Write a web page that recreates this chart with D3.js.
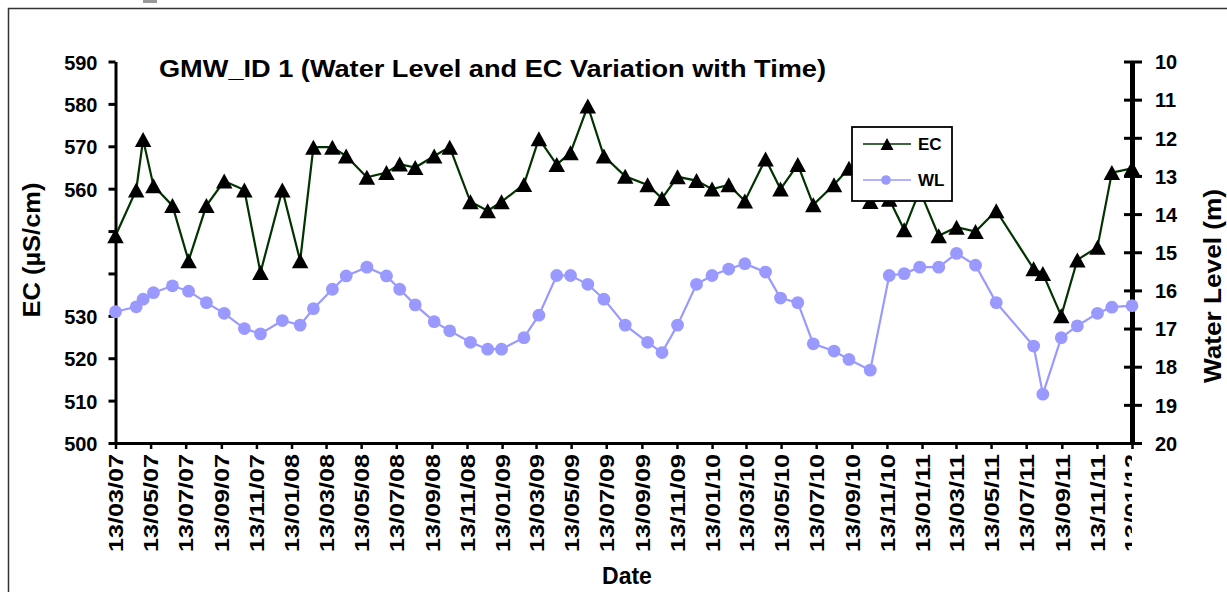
<!DOCTYPE html>
<html>
<head>
<meta charset="utf-8">
<script src="https://cdn.jsdelivr.net/npm/d3@7"></script>
<style>
  html, body { margin: 0; padding: 0; background: #fff; }
  svg { display: block; font-family: "Liberation Sans", Arial, sans-serif; font-weight: bold; }
</style>
</head>
<body>
<svg id="chart" width="1227" height="592"></svg>
<script>
// ---------------- data ----------------
const sampleDates = [
  "2007-03-13","2007-04-18","2007-04-30","2007-05-18","2007-06-20","2007-07-18","2007-08-18","2007-09-18",
  "2007-10-23","2007-11-20","2007-12-28","2008-01-28","2008-02-20","2008-03-24","2008-04-17","2008-05-23",
  "2008-06-26","2008-07-19","2008-08-15","2008-09-17","2008-10-14","2008-11-19","2008-12-19","2009-01-12",
  "2009-02-20","2009-03-18","2009-04-18","2009-05-12","2009-06-11","2009-07-09","2009-08-15","2009-09-23",
  "2009-10-18","2009-11-14","2009-12-17","2010-01-13","2010-02-11","2010-03-11","2010-04-16","2010-05-12",
  "2010-06-11","2010-07-08","2010-08-13","2010-09-08","2010-10-15","2010-11-17","2010-12-13","2011-01-09",
  "2011-02-11","2011-03-14","2011-04-16","2011-05-22","2011-07-26","2011-08-11","2011-09-12","2011-10-10",
  "2011-11-14","2011-12-09","2012-01-13"
];
const ecValues = [
  548.9, 559.7, 571.6, 560.7, 556.0, 543.0, 556.0, 561.8,
  559.7, 540.2, 559.7, 543.0, 569.8, 569.8, 567.7, 562.7,
  563.8, 565.8, 565.0, 567.7, 569.8, 556.9, 554.8, 556.9,
  561.0, 571.8, 565.7, 568.5, 579.5, 567.7, 562.9, 560.9,
  557.7, 562.8, 561.9, 559.9, 560.9, 557.1, 567.0, 559.9,
  565.7, 556.2, 560.9, 564.8, 557.0, 557.5, 550.3, 559.6,
  548.9, 550.9, 549.9, 554.8, 541.1, 540.0, 530.0, 543.2,
  546.2, 563.8, 564.8
];
const wlValues = [
  16.56, 16.43, 16.23, 16.06, 15.88, 16.02, 16.32, 16.60,
  17.00, 17.14, 16.79, 16.91, 16.48, 15.97, 15.62, 15.39,
  15.62, 15.97, 16.38, 16.82, 17.06, 17.36, 17.54, 17.54,
  17.24, 16.65, 15.61, 15.61, 15.84, 16.23, 16.91, 17.36,
  17.63, 16.91, 15.84, 15.61, 15.44, 15.30, 15.52, 16.20,
  16.32, 17.40, 17.59, 17.81, 18.09, 15.61, 15.56, 15.39,
  15.39, 15.03, 15.34, 16.32, 17.46, 18.72, 17.24, 16.93,
  16.60, 16.44, 16.40
];
const xTickLabels = [
  "13/03/07","13/05/07","13/07/07","13/09/07","13/11/07","13/01/08","13/03/08","13/05/08",
  "13/07/08","13/09/08","13/11/08","13/01/09","13/03/09","13/05/09","13/07/09","13/09/09",
  "13/11/09","13/01/10","13/03/10","13/05/10","13/07/10","13/09/10","13/11/10","13/01/11",
  "13/03/11","13/05/11","13/07/11","13/09/11","13/11/11","13/01/12"
];
const ecTickValues = [500, 510, 520, 530, 540, 550, 560, 570, 580, 590];
const ecTickLabels = ["500", "510", "520", "530", "", "", "560", "570", "580", "590"];
const wlTickValues = [10, 11, 12, 13, 14, 15, 16, 17, 18, 19, 20];
const seriesNames = ["EC", "WL"];

// ---------------- layout ----------------
const svg = d3.select("#chart");
const plot = { left: 115.5, right: 1132, top: 61.5, bottom: 443 };
const ecColor = "#003300", wlColor = "#9999ff";

const parseISO = d3.timeParse("%Y-%m-%d");
const parseTick = d3.timeParse("%d/%m/%y");
const dates = sampleDates.map(parseISO);
const tickDates = xTickLabels.map(parseTick);

const x = d3.scaleTime()
  .domain([tickDates[0], tickDates[tickDates.length - 1]])
  .range([plot.left, plot.right]);
const yEC = d3.scaleLinear().domain([500, 590]).range([plot.bottom, plot.top]);
const yWL = d3.scaleLinear().domain([10, 20]).range([plot.top, plot.bottom]);

// chart-area border and clipped fragment at the very top
svg.append("rect").attr("x", 8.5).attr("y", 8.5).attr("width", 1400).attr("height", 800)
  .attr("fill", "#fff").attr("stroke", "#333").attr("stroke-width", 1.5);
svg.append("rect").attr("x", 143).attr("y", 0).attr("width", 14).attr("height", 3).attr("fill", "#999");

// title
svg.append("text").attr("x", 159).attr("y", 77)
  .attr("font-size", 24).attr("textLength", 667).attr("lengthAdjust", "spacingAndGlyphs")
  .text("GMW_ID 1 (Water Level and EC Variation with Time)");

// ---------------- axes ----------------
const fmtMap = new Map(tickDates.map((d, i) => [+d, xTickLabels[i]]));
const clip = svg.append("clipPath").attr("id", "xclip");
clip.append("rect").attr("x", 0).attr("y", 0).attr("width", 1132).attr("height", 592);

const xAxisG = svg.append("g").attr("transform", `translate(0,${plot.bottom})`)
  .call(d3.axisBottom(x).tickValues(tickDates).tickFormat(d => fmtMap.get(+d)).tickSize(6).tickSizeOuter(0));
xAxisG.select(".domain").attr("stroke", "#000").attr("stroke-width", 3);
xAxisG.selectAll(".tick line").attr("stroke", "#000").attr("stroke-width", 2.5);
xAxisG.selectAll(".tick text")
  .attr("fill", "#000").attr("font-size", 20).attr("font-weight", "bold")
  .attr("text-anchor", "end")
  .attr("transform", "rotate(-90)")
  .attr("x", -11).attr("y", 0).attr("dy", "0.36em")
  .attr("textLength", 98).attr("lengthAdjust", "spacingAndGlyphs")
  .attr("clip-path", (d, i) => i === tickDates.length - 1 ? null : null);
// last label is cut at the plot's right edge
xAxisG.selectAll(".tick").filter((d, i) => i === tickDates.length - 1)
  .select("text").remove();
const lastTick = tickDates[tickDates.length - 1];
svg.append("g").attr("clip-path", "url(#xclip)")
  .append("text")
  .attr("transform", `translate(${x(lastTick)},${plot.bottom}) rotate(-90)`)
  .attr("x", -11).attr("dy", "0.36em").attr("text-anchor", "end")
  .attr("font-size", 20).attr("textLength", 98).attr("lengthAdjust", "spacingAndGlyphs")
  .text(fmtMap.get(+lastTick));

const ecLabelMap = new Map(ecTickValues.map((v, i) => [v, ecTickLabels[i]]));
const yLeftG = svg.append("g").attr("transform", `translate(${plot.left},0)`)
  .call(d3.axisLeft(yEC).tickValues(ecTickValues).tickFormat(v => ecLabelMap.get(v)).tickSize(7).tickSizeOuter(0));
yLeftG.select(".domain").attr("stroke", "#000").attr("stroke-width", 3);
yLeftG.selectAll(".tick line").attr("stroke", "#000").attr("stroke-width", 3);
yLeftG.selectAll(".tick text").attr("fill", "#000").attr("font-size", 20).attr("font-weight", "bold")
  .attr("x", -18).attr("dy", "0.38em");

const yRightG = svg.append("g").attr("transform", `translate(${plot.right},0)`)
  .call(d3.axisRight(yWL).tickValues(wlTickValues).tickFormat(d3.format("d")).tickSize(10).tickSizeOuter(0));
yRightG.select(".domain").attr("stroke", "#000").attr("stroke-width", 5);
yRightG.selectAll(".tick line").attr("stroke", "#000").attr("stroke-width", 3).attr("x1", -8);
yRightG.selectAll(".tick text").attr("fill", "#000").attr("font-size", 20).attr("font-weight", "bold")
  .attr("x", 23).attr("dy", "0.36em");

// axis titles
svg.append("text").attr("transform", "translate(40,250) rotate(-90)")
  .attr("text-anchor", "middle").attr("font-size", 23)
  .attr("textLength", 135).attr("lengthAdjust", "spacingAndGlyphs")
  .text("EC (µS/cm)");
svg.append("text").attr("transform", "translate(1221,286) rotate(-90)")
  .attr("text-anchor", "middle").attr("font-size", 23)
  .attr("textLength", 194).attr("lengthAdjust", "spacingAndGlyphs")
  .text("Water Level (m)");
svg.append("text").attr("x", 627).attr("y", 584)
  .attr("text-anchor", "middle").attr("font-size", 23)
  .text("Date");

// ---------------- series ----------------
const triPath = (w, h) => `M0,${-h / 2}L${w / 2},${h / 2}L${-w / 2},${h / 2}Z`;

const wlData = dates.map((d, i) => ({ d, v: wlValues[i] }));
const ecData = dates.map((d, i) => ({ d, v: ecValues[i] }));

svg.append("path").datum(wlData)
  .attr("fill", "none").attr("stroke", wlColor).attr("stroke-width", 2.2)
  .attr("d", d3.line().x(p => x(p.d)).y(p => yWL(p.v)));
svg.append("g").selectAll("circle").data(wlData).join("circle")
  .attr("cx", p => x(p.d)).attr("cy", p => yWL(p.v)).attr("r", 6.4).attr("fill", wlColor);

svg.append("path").datum(ecData)
  .attr("fill", "none").attr("stroke", ecColor).attr("stroke-width", 2.2)
  .attr("d", d3.line().x(p => x(p.d)).y(p => yEC(p.v)));
svg.append("g").selectAll("path").data(ecData).join("path")
  .attr("transform", p => `translate(${x(p.d)},${yEC(p.v)})`)
  .attr("d", triPath(16.5, 15)).attr("fill", "#000");

// ---------------- legend ----------------
const lg = svg.append("g");
lg.append("rect").attr("x", 852).attr("y", 127).attr("width", 100).attr("height", 74)
  .attr("fill", "#fff").attr("stroke", "#000").attr("stroke-width", 1.8);
const legendRows = [
  { name: seriesNames[0], y: 144, color: ecColor },
  { name: seriesNames[1], y: 180, color: wlColor }
];
legendRows.forEach((r, i) => {
  lg.append("line").attr("x1", 863).attr("x2", 911).attr("y1", r.y).attr("y2", r.y)
    .attr("stroke", r.color).attr("stroke-width", i === 0 ? 1.3 : 1.6);
  if (i === 0) {
    lg.append("path").attr("transform", `translate(887,${r.y})`).attr("d", triPath(13, 12)).attr("fill", "#000");
  } else {
    lg.append("circle").attr("cx", 886).attr("cy", r.y).attr("r", 4.8).attr("fill", wlColor);
  }
  lg.append("text").attr("x", 918).attr("y", r.y).attr("dy", "0.36em")
    .attr("font-size", 17).text(r.name);
});
</script>
</body>
</html>
